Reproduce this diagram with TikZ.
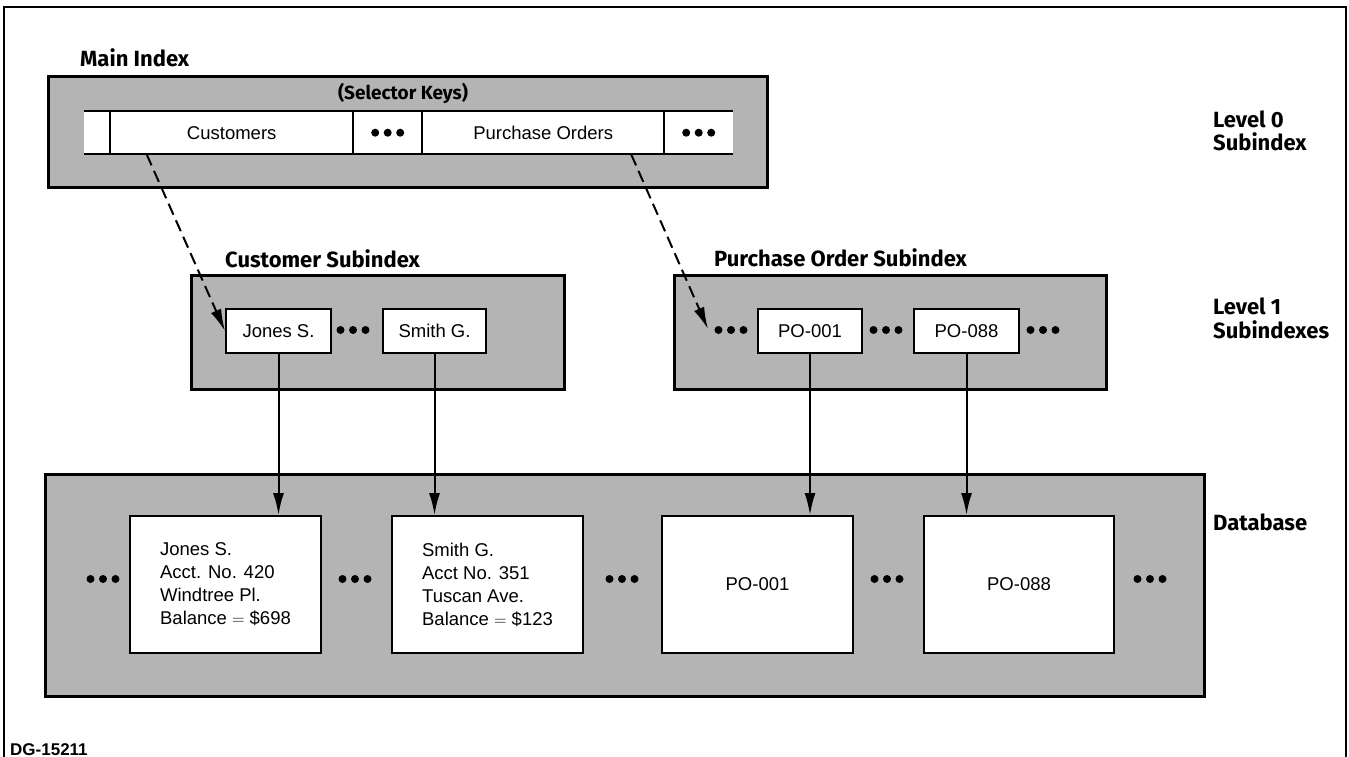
\documentclass[tikz,border=0pt]{standalone}
\usepackage{fontspec}
\setmainfont{Liberation Sans}
\newfontfamily\headfont{Fira Sans}
\usetikzlibrary{arrows.meta}
\definecolor{screen}{RGB}{180,180,180}

\tikzset{
  graybox/.style={draw, line width=2.6pt, fill=screen, inner sep=0pt, anchor=north west},
  whitebox/.style={draw, line width=2pt, fill=white, inner sep=0pt, anchor=north west,
    font=\fontsize{18.5}{23}\selectfont},
  recbox/.style={whitebox, minimum width=191pt, minimum height=137pt, align=left},
  keybox/.style={whitebox, minimum height=44pt},
  cell/.style={fill=white, inner sep=0pt, anchor=north west, minimum height=43pt,
    font=\fontsize{18.5}{23}\selectfont},
  head/.style={font=\headfont\bfseries\fontsize{22}{26}\selectfont, inner sep=0pt, anchor=base west},
  rule/.style={line width=2pt},
  link/.style={line width=2pt, -{Latex[length=22pt,width=11pt]}},
  keylink/.style={link, dash pattern=on 12pt off 6pt},
  threedots/.pic={\foreach \i in {-12.5,0,12.5} \fill (\i,0) circle (4pt);}
}

\begin{document}
\begin{tikzpicture}[x=1pt, y=-1pt]
\useasboundingbox (0,0) rectangle (1349,757);

% frame
\draw[line width=1.5pt] (4,757) -- (4,7) -- (1346,7) -- (1346,757);

% ---------- level 0: main index ----------
\node[head] (mainlbl) at (80,67) {Main Index};
\node[graybox, minimum width=719pt, minimum height=111pt] (main) at (47,75) {};
\node[font=\headfont\bfseries\fontsize{19}{23}\selectfont, inner sep=0pt] (selkeys) at (403,93) {(Selector Keys)};

\node[cell, minimum width=26pt]  (cell0)   at (84,111)  {};
\node[cell, minimum width=243pt] (cust)    at (110,111) {Customers};
\node[cell, minimum width=69pt]  (dotsA)   at (353,111) {};
\node[cell, minimum width=242pt] (porders) at (422,111) {Purchase Orders};
\node[cell, minimum width=69pt]  (dotsB)   at (664,111) {};
\draw[rule] (cell0.north west) -- (dotsB.north east);
\draw[rule] (cell0.south west) -- (dotsB.south east);
\foreach \c in {cust,dotsA,porders,dotsB}
  \draw[line width=1.6pt] (\c.north west) -- (\c.south west);
\pic at (dotsA.center) {threedots};
\pic at (dotsB.center) {threedots};

\node[head] (lvl0) at (1213,128) {Level 0};
\node[head] (lvl0b) at (1213,150) {Subindex};

% ---------- level 1: subindexes ----------
\node[head] (custlbl) at (225,267) {Customer Subindex};
\node[graybox, minimum width=373pt, minimum height=114pt] (csub) at (190,274) {};
\node[keybox, minimum width=105pt] (jones) at (225,308) {Jones S.};
\node[keybox, minimum width=103pt] (smith) at (382,308) {Smith G.};
\pic at (353,330) {threedots};

\node[head] (polbl) at (714,266) {Purchase Order Subindex};
\node[graybox, minimum width=432pt, minimum height=114pt] (psub) at (673,274) {};
\node[keybox, minimum width=104pt] (po1) at (757,308) {PO-001};
\node[keybox, minimum width=105pt] (po88) at (913,308) {PO-088};
\pic at (731,330) {threedots};
\pic at (886,330) {threedots};
\pic at (1043,330) {threedots};
\coordinate (poin) at (708,329);

\node[head] (lvl1) at (1213,314) {Level 1};
\node[head] (lvl1b) at (1213,338) {Subindexes};

% ---------- database ----------
\node[graybox, minimum width=1159pt, minimum height=222pt] (db) at (44,473) {};
\node[recbox] (jrec) at (129,515) {Jones S.\\Acct. No. 420\\Windtree Pl.\\Balance $=$ \$698};
\node[recbox] (srec) at (391,515) {Smith G.\\Acct No. 351\\Tuscan Ave.\\Balance $=$ \$123};
\node[recbox] (p1rec) at (661,515) {PO-001};
\node[recbox, minimum width=190pt] (p88rec) at (923,515) {PO-088};
\foreach \x in {103,355,622,887,1150} \pic at (\x,579) {threedots};

\node[head] (dblbl) at (1213,530) {Database};

% ---------- connectors ----------
\draw[keylink] ([xshift=-85pt]cust.south) -- (jones.west);
\draw[keylink] ([xshift=88pt]porders.south) -- (poin);
\draw[link] (jones.south) -- (jones.south |- jrec.north);
\draw[link] (smith.south) -- (smith.south |- srec.north);
\draw[link] (po1.south) -- (po1.south |- p1rec.north);
\draw[link] (po88.south) -- (po88.south |- p88rec.north);

\node[font=\bfseries\fontsize{17}{19}\selectfont, inner sep=0pt, anchor=base west] (dg) at (10,755) {DG-15211};
\end{tikzpicture}
\end{document}
